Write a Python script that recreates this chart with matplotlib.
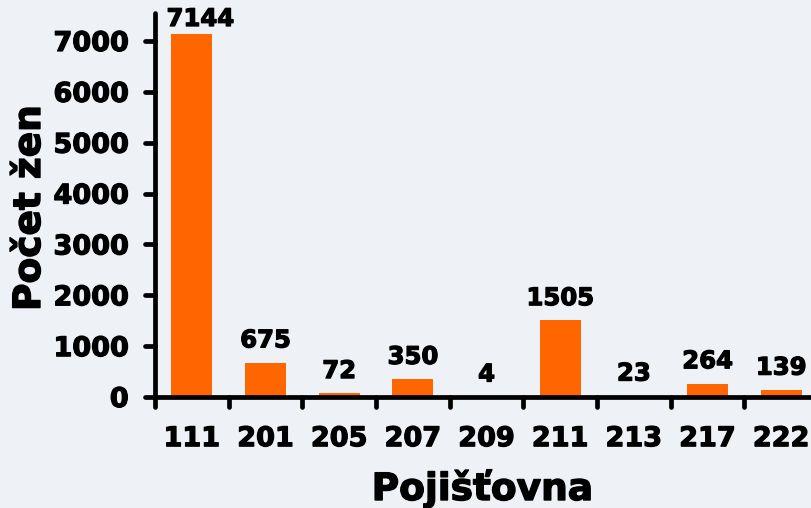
import matplotlib
matplotlib.use("Agg")
import matplotlib.pyplot as plt
import matplotlib.patheffects as pe
from matplotlib.markers import MarkerStyle, TICKDOWN, TICKLEFT
import numpy as np

categories = ["111", "201", "205", "207", "209", "211", "213", "217", "222"]
values = [7144, 675, 72, 350, 4, 1505, 23, 264, 139]
yticks = [0, 1000, 2000, 3000, 4000, 5000, 6000, 7000]

bg = "#eef1f6"
bar_color = "#ff6600"

plt.rcParams['font.family'] = ['DejaVu Sans']
plt.rcParams['font.weight'] = 'bold'

heavy = [pe.withStroke(linewidth=0.9, foreground='black')]

fig = plt.figure(figsize=(8.12, 5.08), dpi=100, facecolor=bg)
W, H = 812, 508
left_px, right_px, top_px, bottom_px = 155, 818, 13, 397
ax = fig.add_axes([left_px / W, 1 - bottom_px / H,
                   (right_px - left_px) / W, (bottom_px - top_px) / H])
ax.set_facecolor(bg)

x = np.arange(len(categories))
ax.bar(x, values, width=0.56, color=bar_color, zorder=2)
ax.set_xlim(-0.5, len(categories) - 0.5)
ax.set_ylim(0, 7550)

vmax = max(values)
for xi, v in zip(x, values):
    dx = 6 if xi == 0 else 0
    dy = 5.5 if v == vmax else 11
    ax.annotate(str(v), (xi, v), xytext=(dx, dy), textcoords='offset points',
                ha='center', va='baseline', fontsize=17.5, fontweight='bold',
                color='black', annotation_clip=False, path_effects=heavy)

for s in ['top', 'right']:
    ax.spines[s].set_visible(False)
for s in ['left', 'bottom']:
    ax.spines[s].set_linewidth(3.4)
    ax.spines[s].set_capstyle('round')

# y ticks
ax.set_yticks(yticks)
ax.set_yticklabels([str(t) for t in yticks])
ax.tick_params(axis='y', length=7, width=3.4, pad=12, labelsize=19.5)

# x: major ticks at boundaries (marks), minor ticks at centers (labels)
ax.set_xticks(np.arange(len(categories) + 1) - 0.5)
ax.set_xticklabels([''] * (len(categories) + 1))
ax.set_xticks(x, minor=True)
ax.set_xticklabels(categories, minor=True)
ax.tick_params(axis='x', which='major', length=7, width=3.4)
ax.tick_params(axis='x', which='minor', length=0, pad=21, labelsize=19.5)

for t in ax.xaxis.get_major_ticks():
    t.tick1line.set_marker(MarkerStyle(TICKDOWN, capstyle='round'))
for t in ax.yaxis.get_major_ticks():
    t.tick1line.set_marker(MarkerStyle(TICKLEFT, capstyle='round'))

for lbl in ax.get_xticklabels(minor=True) + ax.get_yticklabels():
    lbl.set_fontweight('bold')
    lbl.set_path_effects(heavy)

fig.text(482.5 / W, (H - 500) / H, "Pojišťovna", ha='center', va='baseline',
         fontsize=27, fontweight='bold',
         path_effects=[pe.withStroke(linewidth=1.0, foreground='black')])
fig.text(30 / W, 1 - 208 / H, "Počet žen", ha='center', va='center',
         rotation=90, fontsize=27, fontweight='bold',
         path_effects=[pe.withStroke(linewidth=1.0, foreground='black')])

fig.savefig("out.png", dpi=100, facecolor=bg)
